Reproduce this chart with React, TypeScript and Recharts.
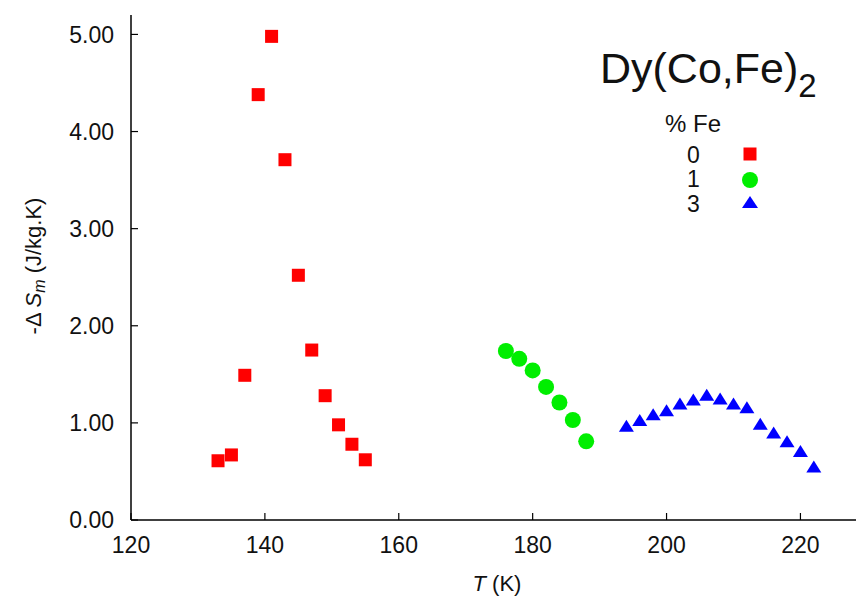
import React from "react";
import { ScatterChart, Scatter, XAxis, YAxis } from "recharts";

// temperatures (K) and -ΔS_m (J/kg.K) for each Fe content
const tempFe0 = [133, 135, 137, 139, 141, 143, 145, 147, 149, 151, 153, 155];
const dsFe0 = [0.61, 0.67, 1.49, 4.38, 4.98, 3.71, 2.52, 1.75, 1.28, 0.98, 0.78, 0.62];

const tempFe1 = [176, 178, 180, 182, 184, 186, 188];
const dsFe1 = [1.74, 1.66, 1.54, 1.37, 1.21, 1.03, 0.81];

const tempFe3 = [194, 196, 198, 200, 202, 204, 206, 208, 210, 212, 214, 216, 218, 220, 222];
const dsFe3 = [0.97, 1.03, 1.09, 1.13, 1.2, 1.24, 1.29, 1.25, 1.2, 1.16, 0.99, 0.9, 0.81, 0.71, 0.55];

const xTicks = [120, 140, 160, 180, 200, 220];
const yTicks = [0, 1, 2, 3, 4, 5];
const feLabels = ["0", "1", "3"];

const FONT = '"Liberation Sans", Arial, sans-serif';
const W = 856;
const H = 596;

const toPoints = (xs: number[], ys: number[]) => xs.map((t, i) => ({ t, ds: ys[i] }));

const Square = (p: any) => (
  <rect x={p.cx - 6.5} y={p.cy - 6.5} width={13} height={13} fill="#ff0000" />
);
const Dot = (p: any) => <circle cx={p.cx} cy={p.cy} r={8} fill="#00ee00" />;
const Tri = (p: any) => (
  <polygon
    points={`${p.cx - 7.5},${p.cy + 6} ${p.cx + 7.5},${p.cy + 6} ${p.cx},${p.cy - 6}`}
    fill="#0000ff"
  />
);

// top frame keeps its tick marks but shows no labels
const NoLabel = () => <g />;

export default function App() {
  const tickStyle = { fill: "#111", fontSize: 23, fontFamily: FONT };
  return (
    <div style={{ position: "absolute", left: 0, top: 0, width: W, height: H, background: "#fff" }}>
      <ScatterChart width={W} height={H} margin={{ top: 15, right: 0, bottom: 16, left: 0 }}>
        <XAxis
          xAxisId="bottom"
          type="number"
          dataKey="t"
          domain={[120, 228.3]}
          allowDataOverflow
          ticks={xTicks}
          height={60}
          tickSize={-7}
          tickMargin={24}
          axisLine={{ stroke: "#000", strokeWidth: 1.5 }}
          tickLine={{ stroke: "#000", strokeWidth: 1.2 }}
          tick={tickStyle}
        />
        <XAxis
          xAxisId="top"
          orientation="top"
          type="number"
          dataKey="t"
          domain={[120, 228.3]}
          allowDataOverflow
          ticks={xTicks}
          height={0}
          tickSize={-7}
          axisLine={{ stroke: "#000", strokeWidth: 1.5 }}
          tickLine={{ stroke: "#000", strokeWidth: 1.2 }}
          tick={NoLabel}
        />
        <YAxis
          type="number"
          dataKey="ds"
          domain={[0, 5.2]}
          allowDataOverflow
          ticks={yTicks}
          width={131}
          tickSize={-7}
          tickMargin={24}
          tickFormatter={(v: number) => v.toFixed(2)}
          axisLine={{ stroke: "#000", strokeWidth: 1.5 }}
          tickLine={{ stroke: "#000", strokeWidth: 1.2 }}
          tick={tickStyle}
        />
        <Scatter xAxisId="bottom" data={toPoints(tempFe0, dsFe0)} shape={Square} isAnimationActive={false} />
        <Scatter xAxisId="bottom" data={toPoints(tempFe1, dsFe1)} shape={Dot} isAnimationActive={false} />
        <Scatter xAxisId="bottom" data={toPoints(tempFe3, dsFe3)} shape={Tri} isAnimationActive={false} />
      </ScatterChart>

      {/* title, legend and axis titles */}
      <svg
        width={W}
        height={H}
        style={{ position: "absolute", left: 0, top: 0, pointerEvents: "none" }}
        fontFamily={FONT}
        fill="#111"
      >
        <text x={600} y={83} fontSize={43}>
          Dy(Co,Fe)
          <tspan fontSize={33} dy={14}>2</tspan>
        </text>

        <text x={665} y={132} fontSize={24}>% Fe</text>
        <text x={693.5} y={163} fontSize={23} textAnchor="middle">{feLabels[0]}</text>
        <text x={693.5} y={187} fontSize={23} textAnchor="middle">{feLabels[1]}</text>
        <text x={693.5} y={212} fontSize={23} textAnchor="middle">{feLabels[2]}</text>
        <Square cx={750} cy={154} />
        <Dot cx={750} cy={180} />
        <polygon points="742,208 758,208 750,196" fill="#0000ff" />

        <text x={497} y={591} fontSize={22} textAnchor="middle">
          <tspan fontStyle="italic">T</tspan> (K)
        </text>

        <text
          transform="translate(40.5,266) rotate(-90)"
          fontSize={22}
          textAnchor="middle"
        >
          -Δ <tspan fontStyle="italic">S</tspan>
          <tspan fontStyle="italic" fontSize={16} dy={4}>m</tspan>
          <tspan dy={-4}> (J/kg.K)</tspan>
        </text>
      </svg>
    </div>
  );
}
